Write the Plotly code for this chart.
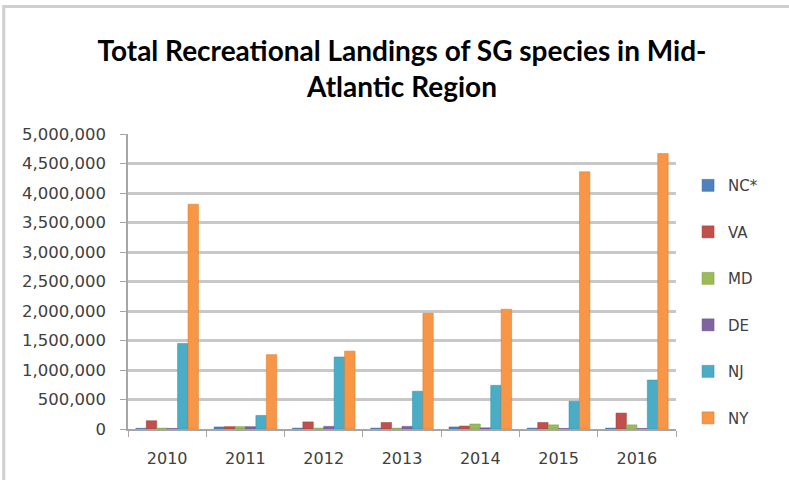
import plotly.graph_objects as go

years = ["2010", "2011", "2012", "2013", "2014", "2015", "2016"]
states = ["NC*", "VA", "MD", "DE", "NJ", "NY"]
nc = [12000, 35000, 15000, 15000, 35000, 15000, 15000]
va = [140000, 40000, 120000, 110000, 50000, 110000, 270000]
md = [15000, 40000, 15000, 15000, 85000, 70000, 70000]
de = [10000, 40000, 45000, 45000, 20000, 10000, 10000]
nj = [1450000, 230000, 1220000, 640000, 740000, 470000, 830000]
ny = [3810000, 1260000, 1320000, 1960000, 2030000, 4360000, 4670000]
series = [nc, va, md, de, nj, ny]
colors = ["#4F81BD", "#C0504D", "#9BBB59", "#8064A2", "#4BACC6", "#F79646"]
line_colors = ["#3A6A9E", "#9E3A37", "#7C9A43", "#65508A", "#2F8FA8", "#D9782A"]

fig = go.Figure()
for i, (name, vals) in enumerate(zip(states, series)):
    fig.add_trace(go.Bar(
        x=years, y=vals, name=name,
        marker=dict(color=colors[i], line=dict(color=line_colors[i], width=0.5)),
        legendgroup=name,
    ))

fig.update_layout(
    width=789, height=480,
    paper_bgcolor="white", plot_bgcolor="white",
    margin=dict(l=128, r=113, t=134, b=51),
    barmode="group", bargap=0.2, bargroupgap=0,
    title=dict(
        text="Total Recreational Landings of SG species in Mid-<br>Atlantic Region",
        x=0.5, xanchor="center", xref="paper", y=0.873, yanchor="top",
        font=dict(family="Lato, Open Sans, sans-serif", size=28, color="#000000", weight="bold"),
    ),
    font=dict(family="DejaVu Sans, sans-serif", color="#595959"),
    legend=dict(
        x=1.022, xanchor="left", y=0.881, yanchor="top",
        font=dict(size=15, color="#404040"),
        tracegroupgap=24, itemwidth=30,
        bgcolor="rgba(0,0,0,0)",
    ),
    xaxis=dict(
        showline=True, linecolor="#A6A6A6", linewidth=1.5,
        ticks="outside", tickson="boundaries", ticklen=6, tickcolor="#A6A6A6",
        tickfont=dict(size=16, color="#404040"),
        ticklabelstandoff=14,
        showgrid=False,
    ),
    yaxis=dict(
        range=[0, 5000000], dtick=500000, tickformat=",d",
        showline=True, linecolor="#A6A6A6", linewidth=1.5,
        ticks="outside", ticklen=6, tickcolor="#A6A6A6",
        ticklabelstandoff=11,
        showgrid=True, gridcolor="#C8C8C8", gridwidth=2.5,
        tickfont=dict(size=16.5, color="#404040"),
        zeroline=False,
    ),
    shapes=[
        dict(type="rect", xref="paper", yref="paper", x0=-0.226, x1=1.3, y0=1.427, y1=1.437,
             line=dict(width=0), fillcolor="#CFCFCF", layer="above"),
        dict(type="rect", xref="paper", yref="paper", x0=-0.2295, x1=-0.2240, y0=1.437, y1=-0.2,
             line=dict(width=0), fillcolor="#CFCFCF", layer="above"),
    ],
)

fig.write_html("out.html", config={"displayModeBar": False},
               post_script="document.body.style.margin='0px';")
